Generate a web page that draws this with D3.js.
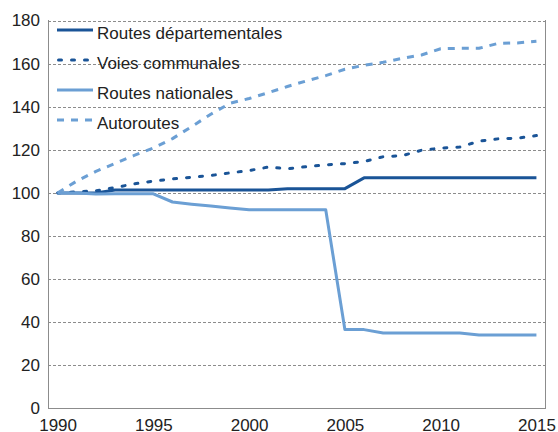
<!DOCTYPE html>
<html>
<head>
<meta charset="utf-8">
<script src="https://cdn.jsdelivr.net/npm/d3@7"></script>
<style>
  body { margin: 0; background: #fff; }
  svg { display: block; font-family: "Liberation Sans", Arial, sans-serif; }
</style>
</head>
<body>
<div id="chart"></div>
<script>
const years = d3.range(1990, 2016);
const xTickLabels = [1990, 1995, 2000, 2005, 2010, 2015];
const yTickValues = [0, 20, 40, 60, 80, 100, 120, 140, 160, 180];

const routesDepartementales = [100, 100, 100, 101.4, 101.4, 101.4, 101.4, 101.4, 101.4, 101.4, 101.4, 101.4, 102, 102, 102, 102, 107, 107, 107, 107, 107, 107, 107, 107, 107, 107];
const voiesCommunales = [100, 100.5, 101, 102.5, 104.2, 105.5, 106.5, 107.3, 108.1, 109.3, 110.4, 112, 111.2, 112.2, 113, 113.6, 114.6, 116.8, 117.3, 119.8, 120.8, 121.3, 124, 125.1, 125.4, 126.6];
const routesNationales = [100, 100, 99.5, 99.6, 99.6, 99.6, 95.8, 94.8, 93.9, 93, 92.2, 92.2, 92.2, 92.2, 92.2, 36.6, 36.6, 35, 35, 35, 35, 35, 34.1, 34.1, 34.1, 34.1];
const autoroutes = [100, 105.5, 110, 113.7, 117.4, 120.8, 125.2, 130.8, 136.5, 141.6, 143.8, 146.5, 149.4, 152, 154.4, 157.4, 159.2, 160.6, 162.5, 164, 166.9, 167.1, 167.1, 169.4, 169.6, 170.4];

const seriesNames = ["Routes départementales", "Voies communales", "Routes nationales", "Autoroutes"];
const seriesValues = [routesDepartementales, voiesCommunales, routesNationales, autoroutes];

const darkBlue = "#1a5497";
const lightBlue = "#6b9fd4";
const styles = [
  { color: darkBlue, dash: null, cap: "butt" },
  { color: darkBlue, dash: "3,10", cap: "round" },
  { color: lightBlue, dash: null, cap: "butt" },
  { color: lightBlue, dash: "7,7", cap: "butt" }
];

const width = 558, height = 432;
const margin = { top: 20, right: 12, bottom: 23, left: 48 };

const svg = d3.select("#chart").append("svg")
  .attr("width", width)
  .attr("height", height);

const x = d3.scalePoint()
  .domain(years)
  .range([margin.left, width - margin.right])
  .padding(0.5);

const y = d3.scaleLinear()
  .domain([0, 180])
  .range([height - margin.bottom - 0.5, margin.top + 0.5]);

// grid lignes
svg.append("g")
  .selectAll("line")
  .data(yTickValues.filter(d => d > 0))
  .enter().append("line")
    .attr("x1", margin.left)
    .attr("x2", width - margin.right)
    .attr("y1", d => Math.round(y(d)) + 0.5)
    .attr("y2", d => Math.round(y(d)) + 0.5)
    .attr("stroke", "#8c8c8c")
    .attr("stroke-width", 1)
    .attr("stroke-dasharray", "3,2");

// cadre: gauche, bas, droite
const frame = svg.append("g").attr("stroke", "#8c8c8c").attr("stroke-width", 1);
frame.append("line")
  .attr("x1", margin.left + 0.5).attr("x2", margin.left + 0.5)
  .attr("y1", margin.top).attr("y2", height - margin.bottom);
frame.append("line")
  .attr("x1", width - margin.right - 0.5).attr("x2", width - margin.right - 0.5)
  .attr("y1", margin.top).attr("y2", height - margin.bottom);
frame.append("line")
  .attr("x1", margin.left).attr("x2", width - margin.right)
  .attr("y1", height - margin.bottom - 0.5).attr("y2", height - margin.bottom - 0.5);

// axe y
const yAxis = svg.append("g")
  .attr("transform", "translate(" + margin.left + ",0)")
  .call(d3.axisLeft(y).tickValues(yTickValues).tickSize(0).tickPadding(8));
yAxis.select(".domain").remove();
yAxis.selectAll("text")
  .style("font-size", "17px")
  .style("font-family", "'Liberation Sans', Arial, sans-serif")
  .attr("fill", "#222");

// axe x
const xAxis = svg.append("g")
  .attr("transform", "translate(0," + (height - margin.bottom) + ")")
  .call(d3.axisBottom(x).tickValues(xTickLabels).tickSize(0).tickPadding(0));
xAxis.select(".domain").remove();
xAxis.selectAll("text")
  .attr("y", 0)
  .attr("dy", "22px")
  .style("font-size", "17px")
  .style("font-family", "'Liberation Sans', Arial, sans-serif")
  .attr("fill", "#222");

// courbes
const line = d3.line()
  .x((d, i) => x(years[i]))
  .y(d => y(d));

svg.append("g")
  .selectAll("path")
  .data(seriesValues)
  .enter().append("path")
    .attr("d", d => line(d))
    .attr("fill", "none")
    .attr("stroke", (d, i) => styles[i].color)
    .attr("stroke-width", 3)
    .attr("stroke-linecap", (d, i) => styles[i].cap)
    .attr("stroke-linejoin", "round")
    .attr("stroke-dasharray", (d, i) => styles[i].dash);

// légende
const legend = svg.append("g")
  .selectAll("g")
  .data(seriesNames)
  .enter().append("g")
    .attr("transform", (d, i) => "translate(57," + (30 + i * 30) + ")");

legend.append("line")
  .attr("x1", (d, i) => styles[i].cap === "round" ? 1.5 : 0)
  .attr("x2", 36)
  .attr("y1", 0).attr("y2", 0)
  .attr("stroke", (d, i) => styles[i].color)
  .attr("stroke-width", 3)
  .attr("stroke-linecap", (d, i) => styles[i].cap)
  .attr("stroke-dasharray", (d, i) => styles[i].dash);

legend.append("text")
  .attr("x", 40)
  .attr("y", 8.5)
  .style("font-size", "17px")
  .attr("fill", "#222")
  .text(d => d);
</script>
</body>
</html>
